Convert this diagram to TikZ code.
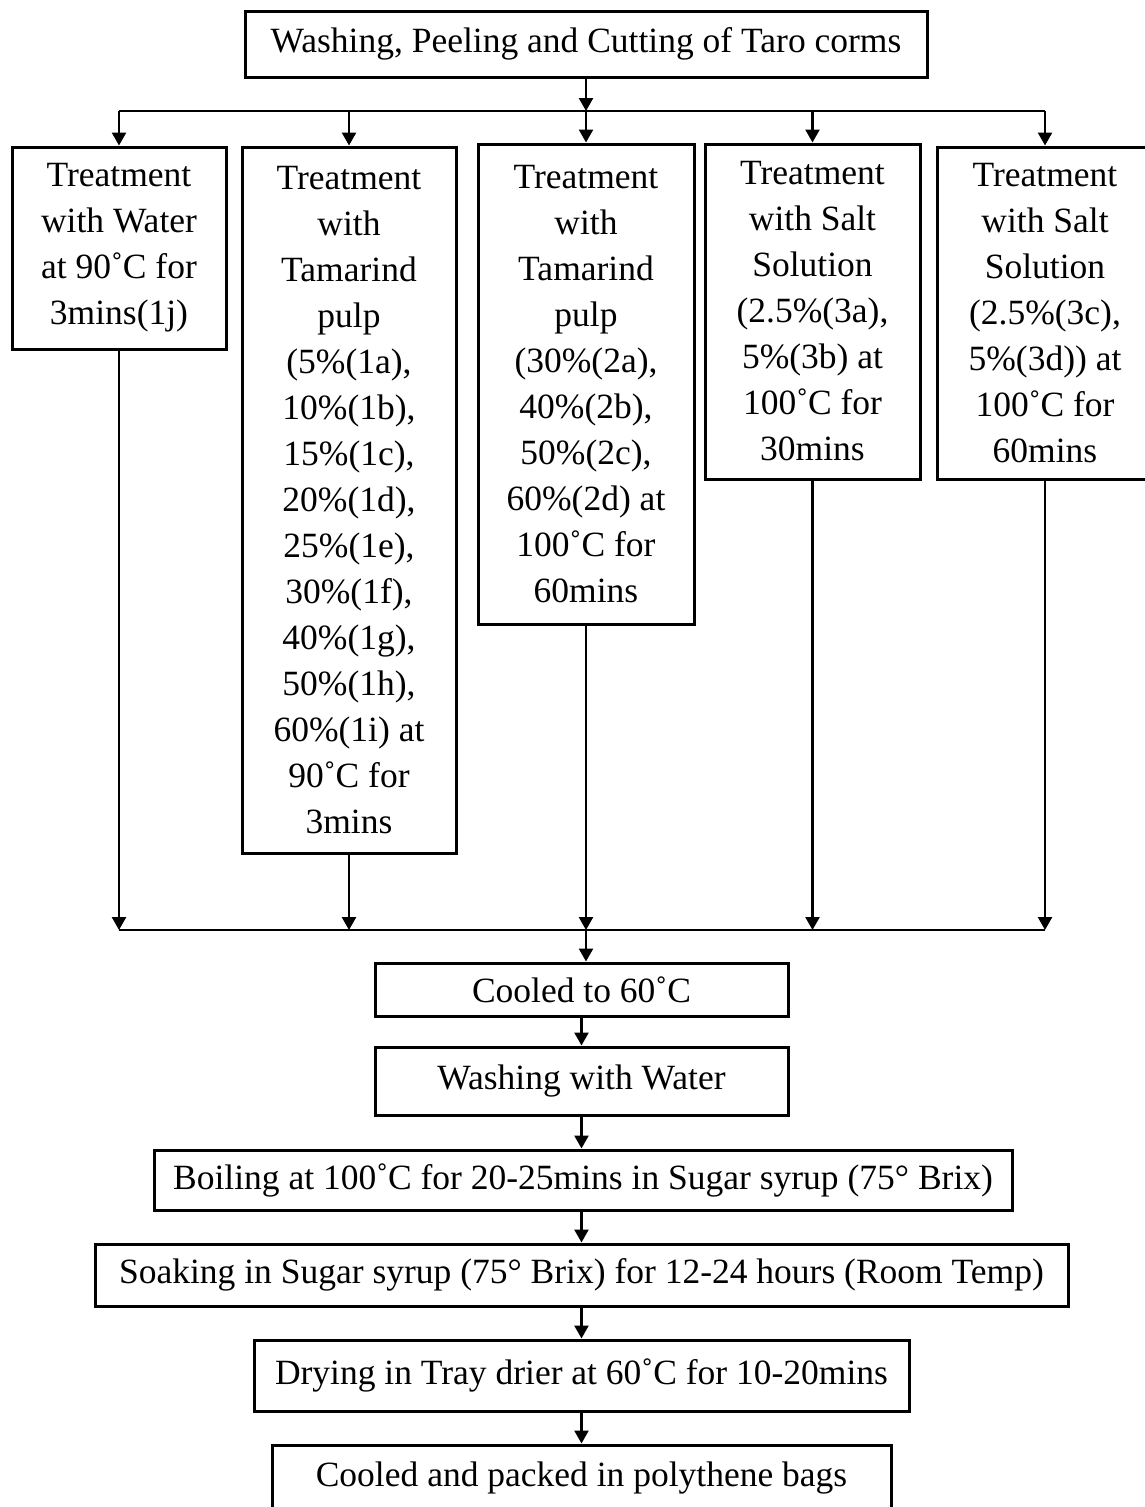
\documentclass[tikz,border=0pt]{standalone}
\usepackage{fontspec}
\setmainfont{Liberation Serif}
\usetikzlibrary{arrows.meta}
\begin{document}
\begin{tikzpicture}[x=1pt,y=-1pt,
  box/.style={draw, line width=3pt, inner sep=0pt, align=center,
    font=\fontsize{35.5}{46}\selectfont},
  conn/.style={line width=2.5pt, -{Triangle[length=13pt,width=14pt]}},
  joinline/.style={line width=2.5pt}]
\useasboundingbox (0,0) rectangle (1145,1507);

\node[box, minimum width=682pt, minimum height=66pt] (top) at (586,44) {Washing, Peeling and Cutting of Taro corms};

\node[box, minimum width=214pt, minimum height=202pt] (b1) at (119,248)
  {Treatment\\with Water\\at 90˚C for\\3mins(1j)};
\node[box, minimum width=214pt, minimum height=706pt] (b2) at (349,500)
  {Treatment\\with\\Tamarind\\pulp\\(5\%(1a),\\10\%(1b),\\15\%(1c),\\20\%(1d),\\25\%(1e),\\30\%(1f),\\40\%(1g),\\50\%(1h),\\60\%(1i) at\\90˚C for\\3mins};
\node[box, minimum width=216pt, minimum height=480pt] (b3) at (586,384)
  {Treatment\\with\\Tamarind\\pulp\\(30\%(2a),\\40\%(2b),\\50\%(2c),\\60\%(2d) at\\100˚C for\\60mins};
\node[box, minimum width=215pt, minimum height=335pt] (b4) at (812.5,311.5)
  {Treatment\\with Salt\\Solution\\(2.5\%(3a),\\5\%(3b) at\\100˚C for\\30mins};
\node[box, minimum width=216pt, minimum height=332pt] (b5) at (1045,313)
  {Treatment\\with Salt\\Solution\\(2.5\%(3c),\\5\%(3d)) at\\100˚C for\\60mins};

\node[box, minimum width=413pt, minimum height=53pt] (cool) at (581.5,989.5) {Cooled to 60˚C};
\node[box, minimum width=413pt, minimum height=68pt] (wash) at (581.5,1081) {Washing with Water};
\node[box, minimum width=858pt, minimum height=60pt] (boil) at (583,1180) {Boiling at 100˚C for 20-25mins in Sugar syrup (75° Brix)};
\node[box, minimum width=973pt, minimum height=62pt] (soak) at (581.5,1275) {Soaking in Sugar syrup (75° Brix) for 12-24 hours (Room Temp)};
\node[box, minimum width=655pt, minimum height=71pt] (dry) at (581.5,1375.5) {Drying in Tray drier at 60˚C for 10-20mins};
\node[box, minimum width=619pt, minimum height=66pt] (pack) at (581.5,1478) {Cooled and packed in polythene bags};

% split
\coordinate (s) at (586,111);
\draw[conn] (top.south) -- (s);
\draw[joinline] (b1.north |- s) -- (b5.north |- s);
\draw[conn] (b1.north |- s) -- (b1.north);
\draw[conn] (b2.north |- s) -- (b2.north);
\draw[conn] (s) -- (b3.north);
\draw[conn] (b4.north |- s) -- (b4.north);
\draw[conn] (b5.north |- s) -- (b5.north);

% merge
\coordinate (m) at (586,930);
\draw[joinline] (b1.south |- m) -- (b5.south |- m);
\draw[conn] (b1.south) -- (b1.south |- m);
\draw[conn] (b2.south) -- (b2.south |- m);
\draw[conn] (b3.south) -- (m);
\draw[conn] (b4.south) -- (b4.south |- m);
\draw[conn] (b5.south) -- (b5.south |- m);
\draw[conn] (m) -- (m |- cool.north);

% chain
\draw[conn] (cool.south) -- (wash.north);
\draw[conn] (wash.south) -- (boil.north -| wash.south);
\draw[conn] (boil.south -| wash.south) -- (soak.north -| wash.south);
\draw[conn] (soak.south) -- (dry.north);
\draw[conn] (dry.south) -- (pack.north);
\end{tikzpicture}
\end{document}
